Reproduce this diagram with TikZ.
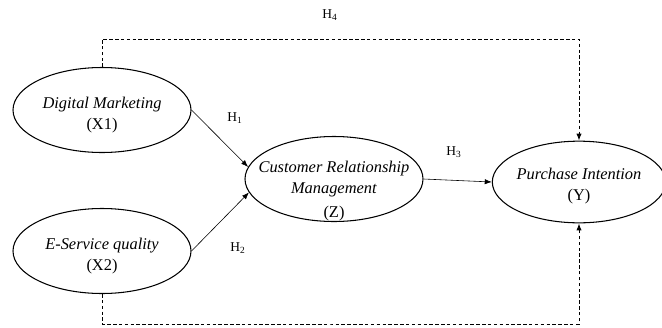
\documentclass[tikz,border=0pt]{standalone}
\usepackage{fontspec}
\setmainfont{Liberation Serif}
\usetikzlibrary{shapes.geometric,arrows.meta}

\begin{document}
\begin{tikzpicture}[x=0.03cm,y=-0.03cm,
	latent/.style={draw, ellipse, line width=0.9pt, inner sep=0pt,
		minimum width=5.34cm, minimum height=2.55cm},
	caption/.style={align=center, font=\fontsize{14}{18.5}\selectfont},
	hyp/.style={font=\fontsize{11.5}{13}\selectfont},
	path/.style={line width=0.5pt, -{Latex[length=6pt,width=4.5pt]}},
	indirect/.style={line width=0.8pt, dash pattern=on 3pt off 2pt,
		-{Latex[length=6pt,width=4.5pt]}}]

	% frame
	\useasboundingbox (0,0) rectangle (662,327);

	% constructs
	\node[latent] (X1) at (102,110) {};
	\node[latent] (X2) at (102,251) {};
	\node[latent] (Z) at (334,179) {};
	\node[latent, minimum width=5.2cm, minimum height=2.45cm] (Y) at (579,182) {};

	% construct texts
	\node[caption] (X1t) at (102,115) {\textit{Digital Marketing}\\(X1)};
	\node[caption] (X2t) at (102,256) {\textit{E-Service quality}\\(X2)};
	\node[caption] (Zt) at (334,191) {\textit{Customer Relationship}\\\textit{Management}\\[2pt](Z)};
	\node[caption] (Yt) at (579,186) {\textit{Purchase Intention}\\(Y)};

	% direct paths
	\draw[path] (X1.east) -- (Z.172);
	\draw[path] (X2.east) -- (Z.-171);
	\draw[path] (Z.east) -- (Y.west);

	% indirect paths
	\coordinate (top) at (330,39);
	\coordinate (low) at (330,324);
	\draw[indirect] (X1.north) |- (top) -| (Y.north);
	\draw[indirect] (X2.south) |- (low) -| (Y.south);

	% hypotheses
	\node[hyp] (H1) at (235,118) {H\textsubscript{1}};
	\node[hyp] (H2) at (238,248) {H\textsubscript{2}};
	\node[hyp] (H3) at (454,152) {H\textsubscript{3}};
	\node[hyp] (H4) at (330,15) {H\textsubscript{4}};

\end{tikzpicture}
\end{document}
